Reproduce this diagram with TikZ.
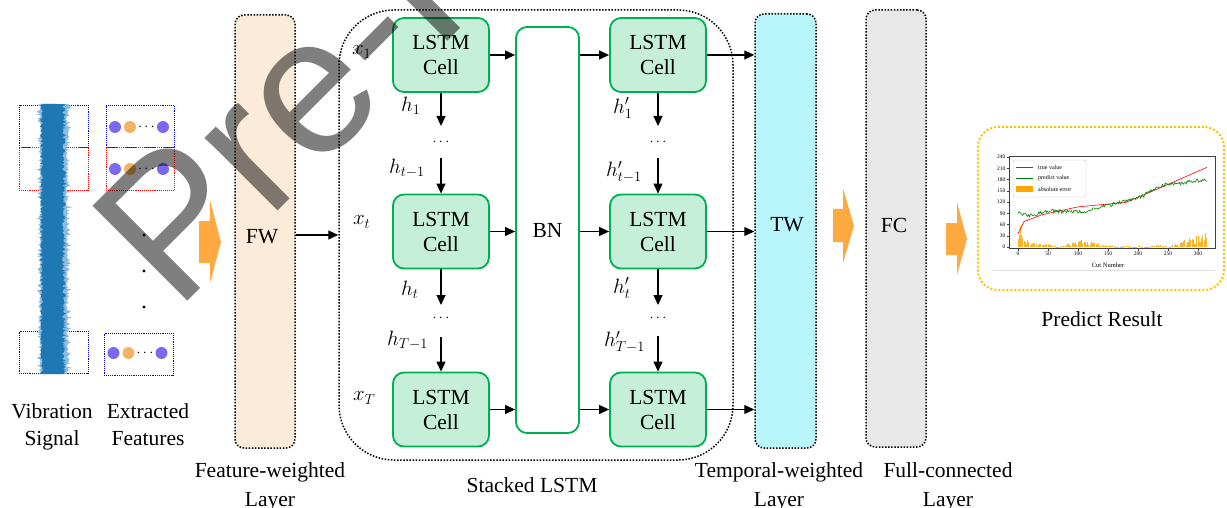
\documentclass[tikz,border=0pt]{standalone}
\usepackage{fontspec}
\setmainfont{Liberation Serif}
\newfontfamily\wmfont{Liberation Sans}
\usetikzlibrary{arrows.meta}
\definecolor{cellfill}{RGB}{198,239,218}
\definecolor{cellgreen}{RGB}{0,176,80}
\definecolor{fwfill}{RGB}{253,235,217}
\definecolor{twfill}{RGB}{185,246,252}
\definecolor{fcfill}{RGB}{232,232,232}
\definecolor{blockorange}{RGB}{255,170,64}
\definecolor{gold}{RGB}{255,192,0}
\definecolor{sigdark}{RGB}{31,119,180}
\definecolor{siglight}{RGB}{140,186,222}
\definecolor{dotpurple}{RGB}{123,104,238}
\definecolor{dotorange}{RGB}{244,178,102}
\definecolor{barorange}{RGB}{255,165,0}
\definecolor{plotgreen}{RGB}{0,128,0}
\newcommand{\bigfont}{\fontsize{21.5}{25}\selectfont}
\tikzset{
  lbl/.style={font=\bigfont, align=center, inner sep=0pt},
  lbltwo/.style={font=\fontsize{21.5}{29}\selectfont, align=center, inner sep=0pt, anchor=north},
  cellbox/.style={draw=cellgreen, line width=1.8pt, fill=cellfill, rounded corners=11pt, minimum width=96pt, minimum height=74pt, align=center, font=\bigfont, inner sep=0pt},
  layerbox/.style={draw=black, line width=1.5pt, dash pattern=on 1.5pt off 1.6pt, rounded corners=9pt, minimum width=60pt, inner sep=0pt},
  arr/.style={-{Triangle[length=10pt,width=9pt]}, line width=1.1pt},
  fbox/.style={line width=0.9pt, dash pattern=on 0.9pt off 1pt, minimum width=68pt, minimum height=42pt, inner sep=0pt},
  hdots/.style={font=\fontsize{15}{15}\selectfont, inner sep=0pt},
  mlbl/.style={font=\bigfont, inner sep=0pt, anchor=west},
  ticklbl/.style={font=\fontsize{5.5}{6}\selectfont, inner sep=1pt},
  blockarrow/.style={fill=blockorange, draw=none},
}
\begin{document}
\begin{tikzpicture}[x=1pt,y=-1pt]
\useasboundingbox (0,0) rectangle (1227,508);
\clip (0,0) rectangle (1227,508);

% ---------- signal boxes ----------
\node[fbox, draw=blue, minimum width=69pt] (sb1) at (53.5,126) {};
\node[fbox, draw=red, minimum width=69pt, minimum height=43pt] (sb2) at (53.5,168.5) {};
\node[fbox, draw=blue, minimum width=69pt] (sb3) at (53.5,352) {};
% vibration signal
\pgfmathsetseed{7}
\fill[siglight] plot[domain=104:374, samples=260] ({41-5*rnd*rnd}, \x) -- plot[domain=374:104, samples=260] ({66+7*rnd*rnd}, \x) -- cycle;
\fill[sigdark] plot[domain=104:374, samples=260] ({43-3*rnd}, \x) -- plot[domain=374:104, samples=260] ({62+4*rnd}, \x) -- cycle;

% ---------- feature boxes ----------
\node[fbox, draw=blue] (fb1) at (140,126) {};
\node[fbox, draw=red, minimum height=43pt] (fb2) at (140,168.5) {};
\node[fbox, draw=blue, minimum width=69pt] (fb3) at (138.5,354) {};
\foreach \yy in {127,169} {
  \fill[dotpurple] (115,\yy) circle (6pt);
  \fill[dotorange] (130,\yy) circle (6pt);
  \node[hdots] (fd\yy) at (146.5,\yy) {$\cdots$};
  \fill[dotpurple] (163,\yy) circle (6pt);
}
\fill[dotpurple] (113.5,353) circle (6pt);
\fill[dotorange] (128.5,353) circle (6pt);
\node[hdots] (fd353) at (145,353) {$\cdots$};
\fill[dotpurple] (161.5,353) circle (6pt);
\fill (144,235) circle (1.6pt);
\fill (144,271) circle (1.6pt);
\fill (144,307) circle (1.6pt);

% ---------- block arrows ----------
\fill[blockarrow] (199,221) -- (210,221) -- (210,200) -- (221,242) -- (210,283) -- (210,263) -- (199,263) -- cycle;
\fill[blockarrow] (833,209) -- (843,209) -- (843,188) -- (854,226) -- (843,263) -- (843,242) -- (833,242) -- cycle;
\fill[blockarrow] (946,223) -- (957,223) -- (957,202) -- (967,239) -- (957,275) -- (957,255) -- (946,255) -- cycle;

% ---------- layers ----------
\node[layerbox, fill=fwfill, minimum height=433pt] (fw) at (265,231.5) {};
\node[lbl] (fwt) at (262,237) {FW};
\node[layerbox, fill=twfill, minimum width=61pt, minimum height=434pt] (tw) at (785.5,231) {};
\node[lbl] (twt) at (787,225) {TW};
\node[layerbox, fill=fcfill, minimum height=437pt] (fc) at (896,228.5) {};
\node[lbl] (fct) at (894,225) {FC};

% ---------- stacked LSTM ----------
\node[draw, line width=1.5pt, dash pattern=on 1.5pt off 1.6pt, rounded corners=55pt, minimum width=394pt, minimum height=450pt, inner sep=0pt] (stack) at (536,235) {};
\node[cellbox] (a1) at (441,55) {LSTM\\Cell};
\node[cellbox] (a2) at (441,231.5) {LSTM\\Cell};
\node[cellbox] (a3) at (441,409.5) {LSTM\\Cell};
\node[cellbox] (b1) at (658,55) {LSTM\\Cell};
\node[cellbox] (b2) at (658,231.5) {LSTM\\Cell};
\node[cellbox] (b3) at (658,409.5) {LSTM\\Cell};
\node[cellbox, fill=white, minimum width=63pt, minimum height=406pt] (bn) at (547.5,230) {BN};

\draw[arr] (fw.east |- stack.west) -- (stack.west);
\foreach \r in {1,2,3} {
  \draw[arr] (a\r.east) -- (a\r.east -| bn.west);
  \draw[arr] (bn.east |- b\r.west) -- (b\r.west);
  \draw[arr] (b\r.east) -- (b\r.east -| tw.west);
}

% vertical h connectors
\coordinate (a1e) at (441,126);
\node[hdots] (ad1) at (441,142) {$\cdots$};
\coordinate (a2s) at (441,158);
\coordinate (a2e) at (441,305);
\node[hdots] (ad2) at (441,318) {$\cdots$};
\coordinate (a3s) at (441,337);
\coordinate (b1e) at (658,126);
\node[hdots] (bd1) at (658,142) {$\cdots$};
\coordinate (b2s) at (658,158);
\coordinate (b2e) at (658,305);
\node[hdots] (bd2) at (658,318) {$\cdots$};
\coordinate (b3s) at (658,336);
\draw[arr] (a1.south) -- (a1e);
\draw[arr] (a2s) -- (a2.north);
\draw[arr] (a2.south) -- (a2e);
\draw[arr] (a3s) -- (a3.north);
\draw[arr] (b1.south) -- (b1e);
\draw[arr] (b2s) -- (b2.north);
\draw[arr] (b2.south) -- (b2e);
\draw[arr] (b3s) -- (b3.north);

% math labels
\node[mlbl] (x1) at (352,52) {$x_1$};
\node[mlbl] (xt) at (353,222) {$x_t$};
\node[mlbl] (xT) at (353,398) {$x_T$};
\node[mlbl] (h1) at (401,106) {$h_1$};
\node[mlbl] (htm) at (389,168) {$h_{t-1}$};
\node[mlbl] (ht) at (401,290) {$h_t$};
\node[mlbl] (hTm) at (387,340) {$h_{T-1}$};
\node[mlbl] (hp1) at (613,108) {$h'_1$};
\node[mlbl] (hptm) at (606,172) {$h'_{t-1}$};
\node[mlbl] (hpt) at (613,288) {$h'_t$};
\node[mlbl] (hpTm) at (604,342) {$h'_{T-1}$};

% ---------- result panel ----------
\node[draw=gold, line width=2pt, dash pattern=on 2pt off 2pt, rounded corners=20pt, minimum width=246pt, minimum height=163pt, inner sep=0pt] (res) at (1101,208.5) {};
\draw[black!12, line width=0.5pt] (992,270) -- (1215,270);
\begin{scope}[shift={(1018,247)}, x=0.6pt, y=0.375pt,
  declare function={
    tv(\x)=(\x<10)?(35+3.3*\x):((\x<40)?(68+0.6*(\x-10)):((\x<100)?(86+0.35*(\x-40)):((\x<180)?(107+0.15*(\x-100)):((\x<240)?(119+0.68*(\x-180)):(160+0.7*(\x-240))))));
    pv(\x)=(\x<20)?(90-0.3*\x):((\x<50)?(84+0.37*(\x-20)):((\x<110)?(95):((\x<200)?(95+0.39*(\x-110)):((\x<240)?(130+0.875*(\x-200)):(165+0.2*(\x-240))))));
  }]
  \pgfmathsetseed{3}
  \foreach \i in {0,...,157} {
    \pgfmathsetmacro\xx{2*\i}
    \pgfmathsetmacro\hh{abs(tv(\xx)-pv(\xx))*(0.3+1.1*rnd)}
    \fill[barorange, opacity=0.85] (\xx-0.8,0) rectangle (\xx+0.8,\hh);
  }
  \draw[red, line width=0.6pt] plot[domain=0:315, samples=120, smooth] (\x, {tv(\x)});
  \draw[plotgreen, line width=0.6pt] plot[domain=0:315, samples=200] (\x, {pv(\x)+5*rand});
  \draw[black!75, line width=0.4pt] (-15,-2) rectangle (328,242);
  \foreach \v in {0,30,...,240} {
    \draw[black!75, line width=0.3pt] (-15,\v) -- (-19,\v);
    \node[ticklbl, anchor=east] (yt\v) at (-19,\v) {\v};
  }
  \foreach \v in {0,50,...,300} {
    \draw[black!75, line width=0.3pt] (\v,-2) -- (\v,-10);
    \node[ticklbl, anchor=north] (xt\v) at (\v,-10) {\v};
  }
  \node[ticklbl, font=\fontsize{6.5}{7}\selectfont] (cutn) at (150,-50) {Cut Number};
\end{scope}
\draw[black!25, line width=0.4pt, fill=white, rounded corners=1.5pt] (1013,160) rectangle (1086,197);
\draw[red, line width=0.7pt] (1016,167) -- (1033,167);
\node[ticklbl, anchor=west, font=\fontsize{6}{7}\selectfont] (lg1) at (1037,167) {true value};
\draw[plotgreen, line width=0.7pt] (1016,178) -- (1033,178);
\node[ticklbl, anchor=west, font=\fontsize{6}{7}\selectfont] (lg2) at (1037,178) {predict value};
\fill[barorange] (1016,186) rectangle (1033,192);
\node[ticklbl, anchor=west, font=\fontsize{6}{7}\selectfont] (lg3) at (1037,189) {absolute error};

% ---------- bottom labels ----------
\node[lbltwo, font=\fontsize{21.5}{27}\selectfont] (vib) at (52,403) {Vibration\\Signal};
\node[lbltwo, font=\fontsize{21.5}{27}\selectfont] (ext) at (148,403) {Extracted\\Features};
\node[lbltwo] (fwl) at (270,462) {Feature-weighted\\Layer};
\node[lbl, anchor=north] (stl) at (532,477) {Stacked LSTM};
\node[lbltwo] (twl) at (779,462) {Temporal-weighted\\Layer};
\node[lbltwo] (fcl) at (948,462) {Full-connected\\Layer};
\node[lbl, anchor=north] (prl) at (1102,311) {Predict Result};

% ---------- watermark ----------
\node[rotate=45, anchor=base west, inner sep=0pt, text=black, text opacity=0.5, font=\wmfont\fontsize{195}{195}\selectfont] (wm) at (176,313) {Pre-Proof};
\end{tikzpicture}
\end{document}
